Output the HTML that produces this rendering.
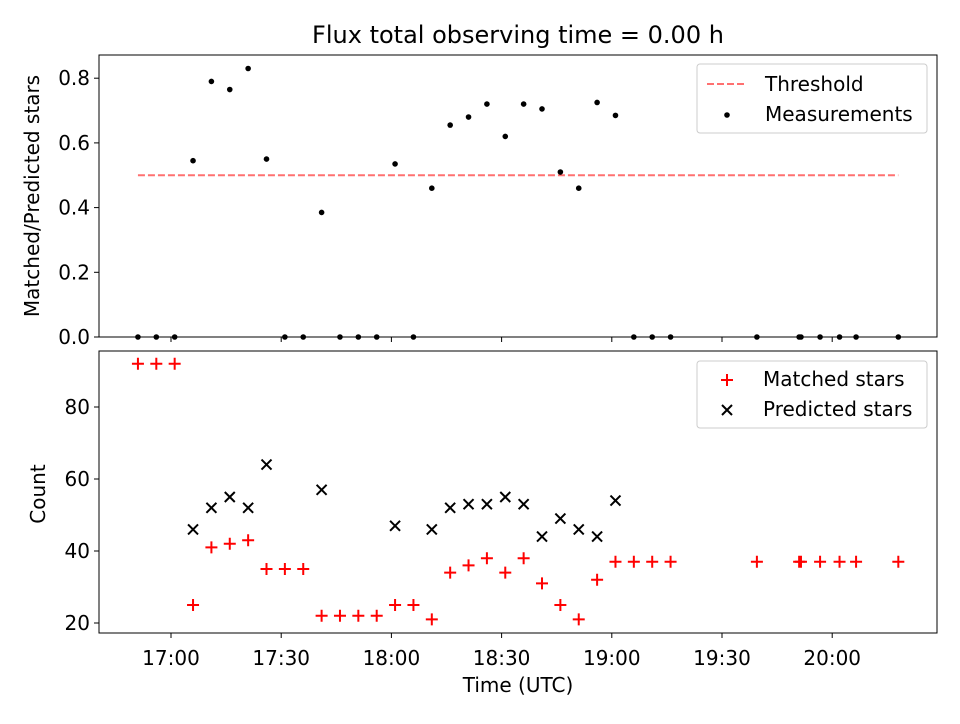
<!DOCTYPE html>
<html><head><meta charset="utf-8"><style>
body{margin:0;background:#fff;font-family:"DejaVu Sans","Liberation Sans",sans-serif;}
svg text{font-family:"DejaVu Sans","Liberation Sans",sans-serif;fill:#000;}
</style></head><body>
<svg id="chart" width="960" height="720" xmlns="http://www.w3.org/2000/svg"></svg>
<script>
const times = [-9,-4,1,6,11,16,21,26,31,36,41,46,51,56,61,66,71,76,81,86,91,96,101,106,111,116,121,126,131,136,159.5,171,171.5,176.7,182,186.5,198];
const ratios = [0,0,0,0.545,0.79,0.765,0.83,0.55,0,0,0.385,0,0,0,0.535,0,0.46,0.655,0.68,0.72,0.62,0.72,0.705,0.51,0.46,0.725,0.685,0,0,0,0,0,0,0,0,0,0];
const matched = [92,92,92,25,41,42,43,35,35,35,22,22,22,22,25,25,21,34,36,38,34,38,31,25,21,32,37,37,37,37,37,37,37,37,37,37,37];
const predicted = [null,null,null,46,52,55,52,64,null,null,57,null,null,null,47,null,46,52,53,53,55,53,44,49,46,44,54,null,null,null,null,null,null,null,null,null,null];
const threshold = 0.5;
const xTickMin = [0,30,60,90,120,150,180];
const xTickLabels = ["17:00","17:30","18:00","18:30","19:00","19:30","20:00"];
const topTicks = [0,0.2,0.4,0.6,0.8];
const botTicks = [20,40,60,80];

const NS="http://www.w3.org/2000/svg";
const svg=document.getElementById('chart');
function el(t,a,p){const e=document.createElementNS(NS,t);for(const k in a)e.setAttribute(k,a[k]);(p||svg).appendChild(e);return e;}
const L=99,R=937,FS=20;
const X=m=>171+m*110.2/30;
const Yt=v=>337-v*323.5;
const Yb=v=>623-(v-20)*3.6;

const title=el('text',{x:518,y:43,'font-size':24,'text-anchor':'middle'});title.textContent='Flux total observing time = 0.00 h';



const tf=el('rect',{x:L,y:55,width:R-L,height:282,fill:'none',stroke:'#000','stroke-width':1});


topTicks.forEach(v=>{const y=Yt(v);el('line',{x1:L-5,x2:L,y1:y,y2:y,stroke:'#000'});const t=el('text',{x:L-9,y:y+7,'font-size':FS,'text-anchor':'end'});t.textContent=v.toFixed(1);

});
xTickMin.forEach(m=>{el('line',{x1:X(m),x2:X(m),y1:337,y2:342,stroke:'#000'});});
const yt=el('text',{x:39,y:196,'font-size':FS,'text-anchor':'middle',transform:'rotate(-90 39 196)'});yt.textContent='Matched/Predicted stars';


const th=el('line',{x1:X(times[0]),x2:X(times[times.length-1]),y1:Yt(threshold),y2:Yt(threshold),stroke:'#ff7070','stroke-width':2,'stroke-dasharray':'7,3'});


times.forEach((m,i)=>{const c=el('circle',{cx:X(m),cy:Yt(ratios[i]),r:2.8,fill:'#000'});

});
const lg1=el('g',{});


el('rect',{x:697,y:64,width:230,height:69,rx:3,fill:'#fff',stroke:'#ccc'},lg1);
el('line',{x1:707,x2:747,y1:84,y2:84,stroke:'#ff7070','stroke-width':2,'stroke-dasharray':'7,3'},lg1);
let t1=el('text',{x:765,y:91,'font-size':FS},lg1);t1.textContent='Threshold';
el('circle',{cx:727,cy:115,r:2.8,fill:'#000'},lg1);
let t2=el('text',{x:765,y:121,'font-size':FS},lg1);t2.textContent='Measurements';

const bf=el('rect',{x:L,y:351,width:R-L,height:282,fill:'none',stroke:'#000','stroke-width':1});


botTicks.forEach(v=>{const y=Yb(v);el('line',{x1:L-5,x2:L,y1:y,y2:y,stroke:'#000'});const t=el('text',{x:L-9,y:y+7,'font-size':FS,'text-anchor':'end'});t.textContent=v;

});
xTickMin.forEach((m,i)=>{el('line',{x1:X(m),x2:X(m),y1:633,y2:638,stroke:'#000'});const t=el('text',{x:X(m),y:665,'font-size':FS,'text-anchor':'middle'});t.textContent=xTickLabels[i];

});
const yb=el('text',{x:45,y:494,'font-size':FS,'text-anchor':'middle',transform:'rotate(-90 45 494)'});yb.textContent='Count';


const xt=el('text',{x:518,y:692,'font-size':FS,'text-anchor':'middle'});xt.textContent='Time (UTC)';


function plus(x,y,g){el('path',{d:`M${x-6} ${y}H${x+6}M${x} ${y-6}V${y+6}`,stroke:'#f00','stroke-width':2},g);}
function cross(x,y,g){el('path',{d:`M${x-5} ${y-5}L${x+5} ${y+5}M${x-5} ${y+5}L${x+5} ${y-5}`,stroke:'#000','stroke-width':2},g);}
times.forEach((m,i)=>{const g=el('g',{});


plus(X(m),Yb(matched[i]),g);});
times.forEach((m,i)=>{if(predicted[i]==null)return;const g=el('g',{});


cross(X(m),Yb(predicted[i]),g);});
const lg2=el('g',{});


el('rect',{x:697,y:361,width:230,height:67,rx:3,fill:'#fff',stroke:'#ccc'},lg2);
plus(727,380,lg2);
let t3=el('text',{x:763,y:386,'font-size':FS},lg2);t3.textContent='Matched stars';
cross(727,410,lg2);
let t4=el('text',{x:763,y:416,'font-size':FS},lg2);t4.textContent='Predicted stars';
</script>
</body></html>
